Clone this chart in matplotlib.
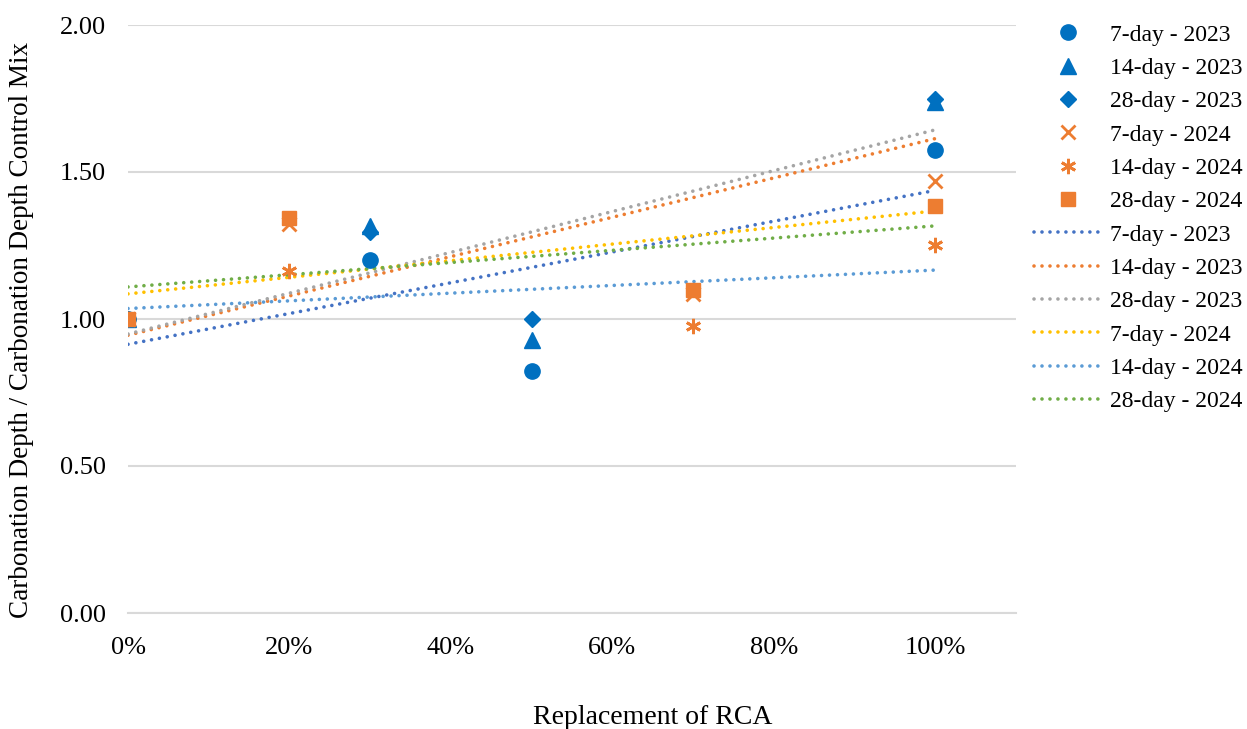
import numpy as np
import matplotlib
matplotlib.use("Agg")
import matplotlib.pyplot as plt
from matplotlib.ticker import FuncFormatter

plt.rcParams['font.family'] = ['Liberation Serif', 'DejaVu Serif']

# Data (replacement fraction, normalised carbonation depth)
x_2023 = [0.0, 0.30, 0.50, 1.00]
d7_2023 = [1.00, 1.20, 0.823, 1.575]
d14_2023 = [1.00, 1.316, 0.930, 1.737]
d28_2023 = [1.00, 1.296, 1.000, 1.750]

x_2024 = [0.0, 0.20, 0.70, 1.00]
d7_2024 = [1.00, 1.323, 1.085, 1.470]
d14_2024 = [1.00, 1.163, 0.976, 1.252]
d28_2024 = [1.00, 1.345, 1.100, 1.386]

labels = ["7-day - 2023", "14-day - 2023", "28-day - 2023",
          "7-day - 2024", "14-day - 2024", "28-day - 2024"]
yticks = [0.0, 0.5, 1.0, 1.5, 2.0]
xticks = [0.0, 0.2, 0.4, 0.6, 0.8, 1.0]

blue = "#0070C0"
orange = "#ED7D31"
trend_colors = ["#4472C4", "#ED7D31", "#A5A5A5", "#FFC000", "#5B9BD5", "#70AD47"]

fig = plt.figure(figsize=(12.47, 7.29), dpi=100)
ax = fig.add_axes([128/1247, 1-613/729, (1016-128)/1247, (613-25)/729])

series = [
    (x_2023, d7_2023, 'o', blue, 11),
    (x_2023, d14_2023, '^', blue, 11),
    (x_2023, d28_2023, 'D', blue, 8.5),
    (x_2024, d7_2024, 'x', orange, 10),
    (x_2024, d14_2024, (6, 2, 0), orange, 11),
    (x_2024, d28_2024, 's', orange, 10.5),
]

handles_m = []
for (xs, ys, m, c, ms), lab in zip(series, labels):
    mew = 2.0 if m in ('x', (6, 2, 0)) else 1
    h, = ax.plot(xs, ys, linestyle='none', marker=m, color=c, markersize=ms,
                 markeredgewidth=mew, label=lab, zorder=3)
    handles_m.append(h)

handles_t = []
for (xs, ys, m, c, ms), lab, tc in zip(series, labels, trend_colors):
    k, b = np.polyfit(xs, ys, 1)
    xx = np.array([0.0, 1.0])
    h, = ax.plot(xx, k*xx + b, color=tc, linewidth=2.6,
                 linestyle=(0, (0.01, 2.2)), dash_capstyle='round', label=lab, zorder=2)
    handles_t.append(h)

ax.set_xlim(0, 1.1)
ax.set_ylim(0, 2.0)
ax.set_yticks(yticks)
ax.set_xticks(xticks)
ax.yaxis.set_major_formatter(FuncFormatter(lambda v, p: f"{v:.2f}"))
ax.xaxis.set_major_formatter(FuncFormatter(lambda v, p: f"{v*100:.0f}%"))
ax.grid(axis='y', color='#D9D9D9', linewidth=1.5, zorder=0)
ax.set_axisbelow(True)
for s in ['top', 'right', 'left']:
    ax.spines[s].set_visible(False)
ax.spines['bottom'].set_color('#D9D9D9')
ax.spines['bottom'].set_linewidth(1.5)
ax.tick_params(axis='both', length=0, labelsize=19)
ax.tick_params(axis='y', pad=16)
ax.tick_params(axis='x', pad=17)

fig.text(22/1247, 1-330/729, "Carbonation Depth / Carbonation Depth Control Mix",
         rotation=90, ha='center', va='center', fontsize=19.5)
fig.text(653/1247, 1-718/729, "Replacement of RCA", ha='center', va='center', fontsize=20)

leg = fig.legend(handles_m + handles_t, labels + labels, loc='upper left',
                 bbox_to_anchor=(1034/1247, 1-24/729), frameon=False, fontsize=17,
                 handlelength=2.85, handletextpad=0.35, labelspacing=0.5,
                 borderaxespad=0, borderpad=0)

fig.savefig("out.png", dpi=100)
